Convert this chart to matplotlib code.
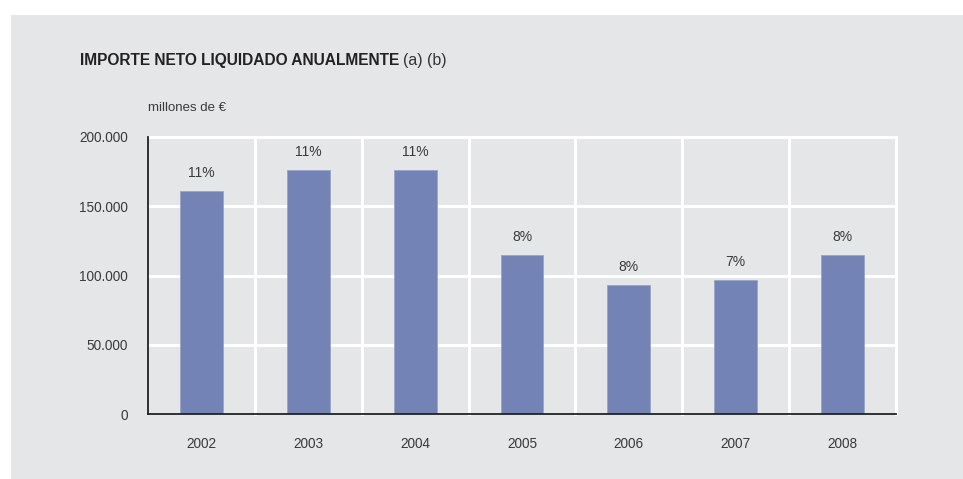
import matplotlib
matplotlib.use("Agg")
import matplotlib.pyplot as plt
from matplotlib.patches import Rectangle
from matplotlib.ticker import FixedLocator

years = ["2002", "2003", "2004", "2005", "2006", "2007", "2008"]
values = [161000, 176000, 176000, 114800, 93000, 96500, 114800]
pct_labels = ["11%", "11%", "11%", "8%", "8%", "7%", "8%"]
y_ticks = [0, 50000, 100000, 150000, 200000]
y_tick_labels = ["0", "50.000", "100.000", "150.000", "200.000"]

plt.rcParams['font.family'] = ['Liberation Sans', 'DejaVu Sans']
W, H = 963, 479
fig = plt.figure(figsize=(W/100, H/100), dpi=100)
fig.patch.set_facecolor('white')
panel_color = '#e5e6e8'
fig.patches.append(Rectangle((11/W, 0), 1 - 11/W, 1 - 15/H, transform=fig.transFigure,
                             facecolor=panel_color, edgecolor='none', zorder=-5))

ax = fig.add_axes([148/W, (H-414)/H, (896-148)/W, (414-137)/H])
ax.set_zorder(2)
ax.set_facecolor(panel_color)
x = list(range(len(years)))
ax.bar(x, values, width=0.4, color='#7483b5', edgecolor='#9aa5c8', linewidth=0.6, zorder=3)
ax.set_xlim(-0.5, len(years) - 0.5)
ax.set_ylim(0, 200000)

ax.yaxis.set_major_locator(FixedLocator(y_ticks))
ax.set_yticklabels(y_tick_labels)
for yv in y_ticks[1:]:
    ax.axhline(yv, color='white', lw=2.2, zorder=1, clip_on=False)
for b in range(1, len(years) + 1):
    ax.axvline(b - 0.5, color='white', lw=2.2, zorder=1, clip_on=False)

ax.set_xticks(x)
ax.set_xticklabels(years)
ax.tick_params(axis='both', length=0, labelsize=9.8, labelcolor='#3a3a3a')
ax.tick_params(axis='y', pad=14.5)
ax.tick_params(axis='x', pad=16.5)
for s in ['top', 'right']:
    ax.spines[s].set_visible(False)
for s in ['left', 'bottom']:
    ax.spines[s].set_color('#222222')
    ax.spines[s].set_linewidth(1.3)
    ax.spines[s].set_zorder(4)

for xi, v, lab in zip(x, values, pct_labels):
    ax.annotate(lab, (xi, v), xytext=(0, 18), textcoords='offset pixels',
                ha='center', va='center', fontsize=10, color='#3a3a3a')

t1 = fig.text(80/W, 1 - 60/H, "IMPORTE NETO LIQUIDADO ANUALMENTE", fontsize=11.2, fontweight='bold',
              color='#222222', ha='left', va='center')
fig.canvas.draw()
bb = t1.get_window_extent()
fig.text(bb.x1/W + 4/W, 1 - 60/H, "(a) (b)", fontsize=11.4, color='#333333', ha='left', va='center')
fig.text(148/W, 1 - 108/H, "millones de €", fontsize=9.5, color='#3a3a3a', ha='left', va='center')

fig.savefig("out.png", dpi=100, facecolor=fig.get_facecolor())
